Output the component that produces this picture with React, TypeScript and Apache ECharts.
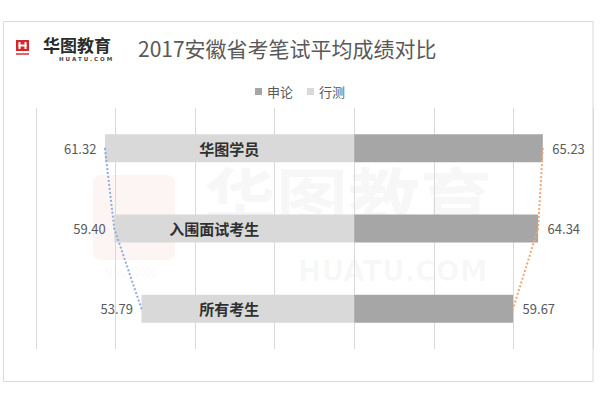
import React, { useEffect, useRef } from "react";
import * as echarts from "echarts";

const categories = ["华图学员", "入围面试考生", "所有考生"];
const leftName = "行测";
const rightName = "申论";
const leftValues = [61.32, 59.4, 53.79];
const rightValues = [65.23, 64.34, 59.67];
const legendOrder = ["申论", "行测"];
const titleText = "2017安徽省考笔试平均成绩对比";

const FONT = "Noto Sans CJK SC, Noto Sans, sans-serif";

export default function App() {
  const ref = useRef<HTMLDivElement>(null);
  useEffect(() => {
    if (!ref.current) return;
    const chart = echarts.init(ref.current, null, { renderer: "svg" });
    const gridTop = 108;
    const gridHeight = 241;
    const valueLabel = (position: string, distance: number) => ({
      show: true,
      position,
      distance,
      fontSize: 13,
      color: "#595959",
      fontFamily: FONT,
      formatter: (p: any) => Number(p.value).toFixed(2),
    });
    const option: any = {
      animation: false,
      backgroundColor: "#ffffff",
      textStyle: { fontFamily: FONT },
      title: {
        text: titleText,
        left: 133,
        top: 32,
        textStyle: { fontSize: 21, fontWeight: "normal", color: "#595959", fontFamily: FONT },
      },
      legend: {
        data: legendOrder,
        left: "center",
        top: 80,
        icon: "rect",
        itemWidth: 7,
        itemHeight: 7,
        itemGap: 14,
        textStyle: { fontSize: 13, color: "#595959", fontFamily: FONT },
      },
      graphic: [
        { type: "rect", shape: { x: 3.5, y: 21.5, width: 589.5, height: 360 }, style: { fill: "none", stroke: "#d9d9d9", lineWidth: 1 }, z: 0, silent: true },
        // watermark
        { type: "rect", shape: { x: 93, y: 175, width: 82, height: 85, r: 8 }, style: { fill: "rgba(225,70,70,0.06)" }, z: 0, silent: true },
        { type: "text", x: 104, y: 266, style: { text: "SINCE 2001", fontSize: 10, fill: "rgba(225,70,70,0.07)", fontFamily: FONT }, z: 0, silent: true },
        { type: "text", x: 204, y: 160, style: { text: "华图教育", fontSize: 72, fontWeight: "bold", fill: "rgba(0,0,0,0.03)", fontFamily: FONT }, z: 0, silent: true },
        { type: "text", x: 298, y: 257, style: { text: "HUATU.COM", fontSize: 28, fontWeight: "bold", fill: "rgba(0,0,0,0.03)", fontFamily: "DejaVu Sans, sans-serif" }, z: 0, silent: true },
        // logo
        { type: "rect", shape: { x: 16, y: 40, width: 13, height: 11 }, style: { fill: "#d7262b" }, z: 5 },
        { type: "rect", shape: { x: 18.5, y: 42, width: 2, height: 7 }, style: { fill: "#ffffff" }, z: 6 },
        { type: "rect", shape: { x: 24.5, y: 42, width: 2, height: 7 }, style: { fill: "#ffffff" }, z: 6 },
        { type: "rect", shape: { x: 18.5, y: 44.5, width: 8, height: 2 }, style: { fill: "#ffffff" }, z: 6 },
        { type: "rect", shape: { x: 16, y: 53, width: 13, height: 2 }, style: { fill: "#e06666" }, z: 5 },
        { type: "text", x: 43, y: 36, style: { text: "华图教育", fontSize: 17, fontWeight: "bold", fill: "#2b2b2b", fontFamily: FONT }, z: 5 },
        { type: "text", x: 59, y: 56, style: { text: "H U A T U . C O M", fontSize: 5.5, fontWeight: "bold", fill: "#444444", fontFamily: "DejaVu Sans, sans-serif" }, z: 5 },
      ],
      grid: [
        { left: 36, width: 557, top: gridTop, height: gridHeight },
        { left: 36, width: 318.3, top: gridTop, height: gridHeight },
        { left: 354.3, width: 238.7, top: gridTop, height: gridHeight },
      ],
      xAxis: [
        {
          gridIndex: 0, type: "value", min: 0, max: 7, interval: 1,
          axisLine: { show: false }, axisTick: { show: false }, axisLabel: { show: false },
          splitLine: { show: true, lineStyle: { color: "#d9d9d9", width: 1 } },
        },
        {
          gridIndex: 1, type: "value", inverse: true, min: 10, max: 75.5,
          axisLine: { show: false }, axisTick: { show: false }, axisLabel: { show: false }, splitLine: { show: false },
        },
        {
          gridIndex: 2, type: "value", min: 30, max: 74.6,
          axisLine: { show: false }, axisTick: { show: false }, axisLabel: { show: false }, splitLine: { show: false },
        },
      ],
      yAxis: [
        { gridIndex: 0, type: "value", show: false },
        {
          gridIndex: 1, type: "category", data: categories, inverse: true, position: "right", z: 10,
          axisLine: { show: false }, axisTick: { show: false }, splitLine: { show: false },
          axisLabel: { inside: true, margin: 95, align: "right", fontSize: 15, fontWeight: "bold", color: "#303030", fontFamily: FONT },
        },
        {
          gridIndex: 2, type: "category", data: categories, inverse: true, show: false,
        },
      ],
      series: [
        {
          name: leftName, type: "bar", xAxisIndex: 1, yAxisIndex: 1, data: leftValues,
          barWidth: 28, itemStyle: { color: "#d9d9d9" }, z: 2,
        },
        {
          name: rightName, type: "bar", xAxisIndex: 2, yAxisIndex: 2, data: rightValues,
          barWidth: 28, itemStyle: { color: "#a6a6a6" }, z: 2,
        },
        {
          name: leftName + "线", type: "line", xAxisIndex: 1, yAxisIndex: 1, data: leftValues,
          symbol: "circle", symbolSize: 1, showSymbol: true,
          itemStyle: { color: "#8eaedb" },
          lineStyle: { type: "dotted", width: 2, color: "#8eaedb" }, z: 3,
          label: valueLabel("left", 8),
        },
        {
          name: rightName + "线", type: "line", xAxisIndex: 2, yAxisIndex: 2, data: rightValues,
          symbol: "circle", symbolSize: 1, showSymbol: true,
          itemStyle: { color: "#efa774" },
          lineStyle: { type: "dotted", width: 2, color: "#efa774" }, z: 3,
          label: valueLabel("right", 9),
        },
      ],
    };
    chart.setOption(option);
    return () => chart.dispose();
  }, []);
  return (
    <div
      ref={ref}
      style={{ position: "fixed", left: 0, top: 0, width: 600, height: 400, background: "#fff" }}
    />
  );
}
